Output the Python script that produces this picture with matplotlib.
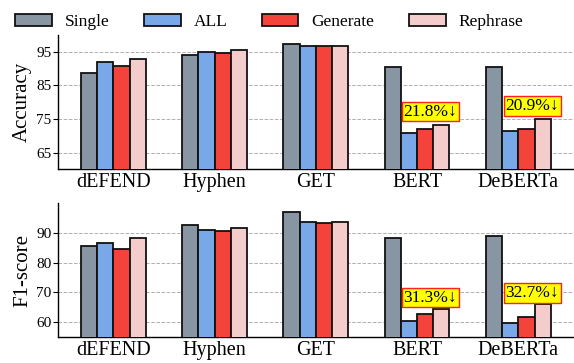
import matplotlib
matplotlib.use("Agg")
import matplotlib.pyplot as plt
import numpy as np
from matplotlib.patches import Patch

plt.rcParams['font.family'] = ['Liberation Serif', 'DejaVu Serif']
plt.rcParams['mathtext.fontset'] = 'stix'

models = ["dEFEND", "Hyphen", "GET", "BERT", "DeBERTa"]
series = ["Single", "ALL", "Generate", "Rephrase"]
colors = ["#8895A2", "#78A8E8", "#F4433A", "#F4CCCC"]

acc_single = [88.6, 94.0, 97.3, 90.4, 90.4]
acc_all = [92.0, 94.9, 96.6, 70.7, 71.5]
acc_generate = [90.7, 94.5, 96.6, 72.1, 72.1]
acc_rephrase = [92.9, 95.5, 96.8, 73.2, 75.0]

f1_single = [85.6, 92.9, 97.2, 88.2, 88.9]
f1_all = [86.8, 91.1, 93.6, 60.5, 59.7]
f1_generate = [84.8, 90.7, 93.5, 62.9, 61.6]
f1_rephrase = [88.5, 91.8, 93.7, 64.4, 66.2]

acc_ticks = [65, 75, 85, 95]
f1_ticks = [60, 70, 80, 90]

acc_notes = ["21.8%↓", "20.9%↓"]
acc_note_pos = [(3.13, 77.2), (4.14, 78.9)]
f1_notes = ["31.3%↓", "32.7%↓"]
f1_note_pos = [(3.13, 68.3), (4.14, 69.8)]

fig = plt.figure(figsize=(5.74, 3.63), dpi=100)
ax1 = fig.add_axes([0.1005, 0.5336, 0.8995, 0.370])
ax2 = fig.add_axes([0.1005, 0.0716, 0.8995, 0.368])

x = np.arange(len(models))
w = 0.16

def draw(ax, data, ylim, ticks, ylabel, notes, note_pos):
    for i, (vals, c) in enumerate(zip(data, colors)):
        ax.bar(x + (i - 1.5) * w, vals, w, color=c, edgecolor="#111111",
               linewidth=1.3, zorder=3)
    ax.set_ylim(*ylim)
    ax.set_xlim(-0.55, 4.55)
    ax.set_yticks(ticks)
    ax.set_xticks(x)
    ax.set_xticklabels(models, fontsize=14.5)
    ax.tick_params(axis='y', labelsize=11, length=3.5, width=0.8, pad=1)
    ax.tick_params(axis='x', length=0, pad=3)
    ax.set_ylabel(ylabel, fontsize=15, labelpad=3)
    ax.yaxis.grid(True, linestyle='--', color='#b0b0b0', linewidth=0.7, zorder=0)
    ax.set_axisbelow(True)
    for s in ['top', 'right']:
        ax.spines[s].set_visible(False)
    for s in ['left', 'bottom']:
        ax.spines[s].set_linewidth(1.0)
    for t, (px, py) in zip(notes, note_pos):
        ax.text(px, py, t, fontsize=12.5, ha='center', va='center', zorder=5,
                bbox=dict(boxstyle='square,pad=0.1', facecolor='#FFFF00',
                          edgecolor='#FF2020', linewidth=1.0))

draw(ax1, [acc_single, acc_all, acc_generate, acc_rephrase], (60, 100),
     acc_ticks, "Accuracy", acc_notes, acc_note_pos)
draw(ax2, [f1_single, f1_all, f1_generate, f1_rephrase], (55, 100),
     f1_ticks, "F1-score", f1_notes, f1_note_pos)

handles = [Patch(facecolor=c, edgecolor="#111111", linewidth=1.3) for c in colors]
fig.legend(handles, series, loc='center', bbox_to_anchor=(0.469, 0.94), ncol=4,
           frameon=False, fontsize=12.5, handlelength=2.1, handleheight=0.75,
           handletextpad=0.75, columnspacing=2.0, borderaxespad=0)

fig.savefig("out.png", dpi=100)
